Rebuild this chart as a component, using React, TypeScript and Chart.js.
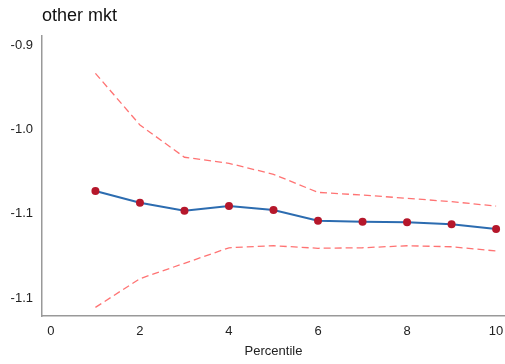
import React, { useEffect, useRef } from "react";
import { Chart, registerables } from "chart.js";

Chart.register(...registerables);

const titleText = "other mkt";
const xAxisTitle = "Percentile";
const percentiles = [1, 2, 3, 4, 5, 6, 7, 8, 9, 10];
const estimate = [-1.0365, -1.0434, -1.0482, -1.0454, -1.0478, -1.0541, -1.0547, -1.055, -1.0562, -1.059];
const upperCI = [-0.9668, -0.9974, -1.0165, -1.0201, -1.0266, -1.0373, -1.0389, -1.0408, -1.0428, -1.0454];
const lowerCI = [-1.1054, -1.0884, -1.0793, -1.0701, -1.0689, -1.0704, -1.0701, -1.0689, -1.0695, -1.072];
const xTicks = [0, 2, 4, 6, 8, 10];
const yTicks = [-0.95, -1.0, -1.05, -1.1];
const yTickLabels = ["-0.9", "-1.0", "-1.1", "-1.1"];

const FONT = "'Liberation Sans', Arial, sans-serif";

export default function App() {
  const ref = useRef<HTMLCanvasElement>(null);
  useEffect(() => {
    if (!ref.current) return;
    const titlePlugin = {
      id: "leftTitle",
      afterDraw(chart: any) {
        const { ctx, chartArea } = chart;
        ctx.save();
        ctx.fillStyle = "#111";
        ctx.font = `18px ${FONT}`;
        ctx.textBaseline = "alphabetic";
        ctx.textAlign = "left";
        ctx.fillText(titleText, chartArea.left, 21);
        ctx.restore();
      },
    };
    const ciStyle = {
      borderColor: "rgba(255,90,90,0.85)",
      borderWidth: 1.3,
      borderDash: [7, 4],
      pointRadius: 0,
      fill: false,
    };
    const chart = new Chart(ref.current, {
      type: "line",
      data: {
        datasets: [
          { data: upperCI.map((y, i) => ({ x: percentiles[i], y })), ...ciStyle },
          { data: lowerCI.map((y, i) => ({ x: percentiles[i], y })), ...ciStyle },
          {
            data: estimate.map((y, i) => ({ x: percentiles[i], y })),
            borderColor: "#2c6cb0",
            borderWidth: 2,
            pointRadius: 4,
            pointBackgroundColor: "#b5172b",
            pointBorderColor: "#b5172b",
            pointBorderWidth: 0,
            fill: false,
          },
        ],
      },
      options: {
        animation: false,
        responsive: false,
        layout: { autoPadding: false, padding: { top: 36, right: 0, left: 0, bottom: 0 } },
        plugins: { legend: { display: false }, tooltip: { enabled: false }, title: { display: false } },
        scales: {
          x: {
            type: "linear",
            min: -0.2,
            max: 10.2,
            grid: { display: false, drawTicks: false },
            border: { display: true, color: "#999", width: 1.5 },
            afterBuildTicks(scale: any) {
              scale.ticks = xTicks.map((v) => ({ value: v }));
            },
            afterFit(scale: any) {
              scale.height = 48;
              scale.paddingLeft = 0;
              scale.paddingRight = 0;
            },
            ticks: {
              color: "#222",
              font: { family: FONT, size: 13 },
              padding: 8,
              maxRotation: 0,
              callback: (v: any) => String(v),
            },
            title: {
              display: true,
              text: xAxisTitle,
              color: "#222",
              font: { family: FONT, size: 13 },
              padding: { top: 0, bottom: 5 },
            },
          },
          y: {
            type: "linear",
            min: -1.1105,
            max: -0.9447,
            grid: { display: false, drawTicks: false },
            border: { display: true, color: "#999", width: 1.5 },
            afterBuildTicks(scale: any) {
              scale.ticks = yTicks.map((v) => ({ value: v }));
            },
            afterFit(scale: any) {
              scale.width = 42;
              scale.paddingTop = 0;
              scale.paddingBottom = 0;
            },
            ticks: {
              color: "#222",
              font: { family: FONT, size: 13 },
              padding: 9,
              callback: (_v: any, i: number) => yTickLabels[i],
            },
          },
        },
      },
      plugins: [titlePlugin],
    });
    return () => chart.destroy();
  }, []);
  return (
    <div style={{ position: "absolute", left: 0, top: 0, width: 505, height: 364, background: "#fff" }}>
      <canvas ref={ref} width={505} height={364} style={{ width: 505, height: 364 }} />
    </div>
  );
}
